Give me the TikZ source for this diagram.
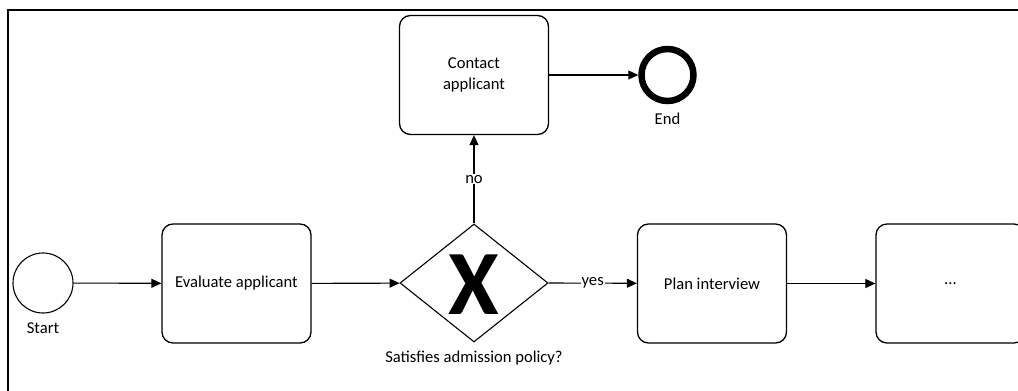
\documentclass[tikz,border=0pt]{standalone}
\usepackage{fontspec}
\setmainfont{Carlito}
\usetikzlibrary{arrows.meta,shapes.geometric}
\begin{document}
\begin{tikzpicture}[x=1pt,y=-1pt,
  every node/.style={font=\fontsize{16.6}{21}\selectfont},
  task/.style={draw, line width=1.3pt, rounded corners=11pt, minimum width=149pt, minimum height=119pt, align=center, inner sep=0pt},
  flow/.style={line width=1.1pt, -{Triangle[length=10pt,width=9pt]}},
  lbl/.style={fill=white, inner sep=1pt}]
\useasboundingbox (0,0) rectangle (1018,391);
% pool frame (left and top edges)
\draw[line width=2pt] (8,391) -- (8,10) -- (1018,10);

% events
\node[circle, draw, line width=1.1pt, minimum size=60pt, inner sep=0pt] (start) at (43,283) {};
\node (startlbl) at (43,328) {Start};
\node[circle, draw, line width=6.5pt, minimum size=52pt, inner sep=0pt] (end) at (667.5,75) {};
\node (endlbl) at (667.5,119) {End};

% tasks
\node[task] (eval) at (236.5,283.5) {Evaluate applicant};
\node[task] (contact) at (474,75) {Contact\\applicant};
\node[task] (plan) at (712,283.5) {Plan interview};
\begin{scope}
\clip (0,0) rectangle (1018,391);
\node[task] (more) at (950.5,283.5) {...};
\end{scope}

% exclusive gateway
\node[diamond, draw, line width=1.1pt, minimum width=148pt, minimum height=118pt, inner sep=0pt] (gw) at (474,283) {};
\node[font=\fontsize{92}{92}\selectfont\bfseries] (gwx) at (474,285) {X};
\node (gwlbl) at (474,358) {Satisfies admission policy?};

% sequence flows
\draw[flow] (start) -- (eval);
\draw[flow] (eval) -- (gw);
\draw[flow] (gw.east) -- node[lbl] {yes} (plan);
\draw[flow] (gw.north) -- node[lbl, pos=0.5] {no} (contact);
\draw[flow] (contact) -- (end);
\draw[flow] (plan) -- (more);
\end{tikzpicture}
\end{document}
